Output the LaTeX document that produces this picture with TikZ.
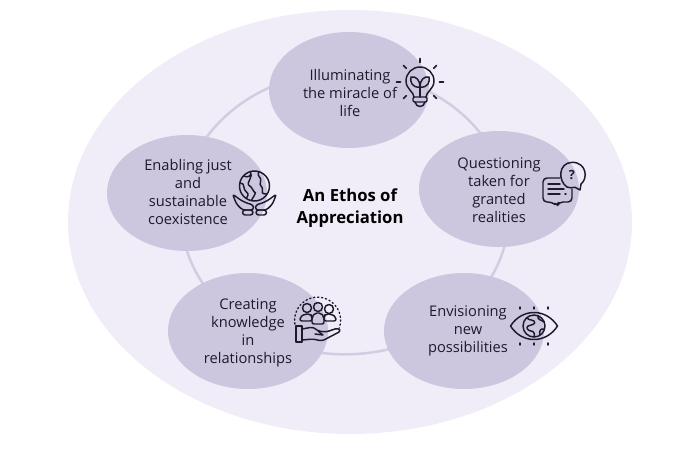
\documentclass[tikz,border=0pt]{standalone}
\usepackage{fontspec}
\setmainfont{Open Sans}
\usepackage{xcolor}
\usetikzlibrary{positioning,shapes.geometric,calc}
\definecolor{haze100}{HTML}{F1EDF8}
\definecolor{lilac300}{HTML}{CDC6DF}
\definecolor{lilac200}{HTML}{D3CDE3}
\definecolor{ink900}{HTML}{1E1A2C}
\tikzset{
  every node/.style={font=\fontsize{11}{13.4}\selectfont, text=ink900},
  halo/.style={
    ellipse, inner sep=0pt, fill=haze100,
    minimum width=423pt, minimum height=318pt
  },
  ring/.style={
    ellipse, inner sep=0pt, draw=lilac200, line width=1.9pt,
    minimum width=246pt, minimum height=212pt
  },
  petal/.style={
    ellipse, inner sep=0pt, fill=lilac300,
    minimum width=120pt, minimum height=87pt
  },
  caption/.style={align=center, inner sep=0pt},
  title/.style={
    align=center, inner sep=0pt,
    font=\fontsize{12.5}{16.5}\selectfont\bfseries, text=black
  },
  icon/.style={draw=ink900, line width=1.1pt, line cap=round, line join=round},
}
\begin{document}
\begin{tikzpicture}[x=0.75pt,y=-0.75pt]
  \useasboundingbox (0,0) rectangle (689,454);
  \node[halo] (field) at (350,222) {};
  \node[ring] (loop) at (345,213) {};
  \node[petal] (top) at (349,90) {};
  \node[petal] (right) at (499,189) {};
  \node[petal] (left) at (187,193) {};
  \node[petal] (lowleft) at (248,331) {};
  \node[petal] (lowright) at (464,331) {};
  \node[title] (ethos) at (350,208) {An Ethos of\\Appreciation};
  \node[caption] (illum) at (350,93) {Illuminating\\the miracle of\\life};
  \node[caption] (quest) at (499,190) {Questioning\\taken for\\granted\\realities};
  \node[caption] (enable) at (188,192) {Enabling just\\and\\sustainable\\coexistence};
  \node[caption] (create) at (248,333) {Creating\\knowledge\\in\\relationships};
  \node[caption] (envis) at (468,331) {Envisioning\\new\\possibilities};
  \begin{scope}[shift={(420,82)}, icon]
    \draw (-6,15) .. controls (-6,10) and (-14,7) .. (-14,-1) arc[start angle=180, end angle=360, radius=14] .. controls (14,7) and (6,10) .. (6,15);
    \draw[rounded corners=1pt] (-7,15) -- (7,15) -- (7,20) -- (-7,20) -- cycle;
    \draw (-5,20) .. controls (-4,26) and (4,26) .. (5,20);
    \draw (0,0) -- (0,15);
    \draw (0,5) .. controls (-8,6) and (-10,0) .. (-9,-5) .. controls (-4,-6) and (0,-2) .. (0,5);
    \draw (0,5) .. controls (8,6) and (10,0) .. (9,-5) .. controls (4,-6) and (0,-2) .. (0,5);
    \foreach \a in {0,45,135,180,225,270,315}
      \draw[line width=1.2pt] (\a:19.5) -- (\a:23.5);
  \end{scope}
  \begin{scope}[shift={(572,175)}, icon]
    \draw (-5,12) .. controls (-14,6) and (-14,-12) .. (0,-12.7) .. controls (15,-12.7) and (16,4) .. (9,9) -- (8,15) -- (3,12.3) .. controls (0,13) and (-3,13) .. (-5,12);
    \node[inner sep=0pt, font=\fontsize{9.5}{9.5}\selectfont\bfseries] (mark) at (0,-0.5) {?};
    \draw[rounded corners=3pt] (-12,3) -- (-29,3) -- (-29,27) -- (-20,27) -- (-15,31) -- (-13,27) -- (0,27) -- (0,14);
    \draw (-24,9) -- (-12,9);
    \draw (-24,14) -- (-8,14);
    \draw (-24,19) -- (-12,19);
    \draw (-7,19) -- (-6,19);
  \end{scope}
  \begin{scope}[shift={(254.5,186)}, icon]
    \draw (0,0) circle[radius=15];
    \draw (-11,-10) .. controls (-6,-8) and (-3,-10) .. (-4,-14) .. controls (-1,-10) and (-8,-3) .. (-6,-1) .. controls (-2,1) and (-2,5) .. (1,7) .. controls (0,10) and (-2,12) .. (-3,14);
    \draw (-14,-3) .. controls (-9,-3) and (-12,4) .. (-8,6) .. controls (-5,8) and (-7,11) .. (-8,12);
    \draw (4,-14) .. controls (2,-9) and (8,-9) .. (6,-4) .. controls (4,0) and (9,0) .. (8,5) .. controls (7,8) and (10,8) .. (12,8);
    \begin{scope}[rounded corners=2pt]
      \draw (-22,8) -- (-14,14) -- (-8,17) -- (-1,19) -- (-1,24) -- (-12,24) -- (-18,18) -- cycle;
      \draw (22,8) -- (14,14) -- (8,17) -- (1,19) -- (1,24) -- (12,24) -- (18,18) -- cycle;
      \draw (-12,24) rectangle (-1.5,29);
      \draw (1.5,24) rectangle (12,29);
    \end{scope}
  \end{scope}
  \begin{scope}[shift={(318,320)}, icon]
    \draw[dotted, line width=1pt] (-22,8) arc[start angle=160, end angle=380, radius=23];
    \draw (-11,-12) circle[radius=4.5];
    \draw (0,-13) circle[radius=4.5];
    \draw (11,-11) circle[radius=4.5];
    \draw[rounded corners=1.5pt] (-18,1) -- (-18,-3) -- (-13,-6) -- (-8,-6) -- (-6,-4) -- (-6,1) -- cycle;
    \draw[rounded corners=1.5pt] (6,1) -- (6,-4) -- (8,-6) -- (13,-6) -- (18,-3) -- (18,1) -- cycle;
    \draw[rounded corners=1.5pt] (-6,4) -- (-6,-3) -- (-3,-7) -- (3,-7) -- (6,-3) -- (6,4) -- cycle;
    \draw (-22,6) rectangle (-16,22);
    \draw[rounded corners=2pt] (-16,9) -- (-5,7) -- (0,11) -- (8,12) -- (20,8) -- (23,11) -- (4,21) -- (-5,19) -- (-16,20);
    \draw (0,11) -- (5,15) -- (-3,14);
  \end{scope}
  \begin{scope}[shift={(534,326)}, icon]
    \draw (-23.5,0) .. controls (-12,-18) and (12,-18) .. (23.5,0) .. controls (12,18) and (-12,18) .. (-23.5,0) -- cycle;
    \draw (0,0) circle[radius=11];
    \draw (-7,-8) .. controls (-4,-5) and (-2,-7) .. (0,-5) .. controls (3,-2) and (-3,-1) .. (-6,0) .. controls (-9,2) and (-5,5) .. (-3,5) .. controls (0,5) and (1,8) .. (0,11);
    \draw (4,-10) .. controls (3,-6) and (8,-6) .. (10,-4);
    \draw (10,3) .. controls (6,2) and (5,6) .. (6,9);
    \foreach \px in {-14,0,14}{
      \draw (\px,-19) -- (\px,-17);
      \draw (\px,19) -- (\px,17);
    }
  \end{scope}
\end{tikzpicture}
\end{document}
